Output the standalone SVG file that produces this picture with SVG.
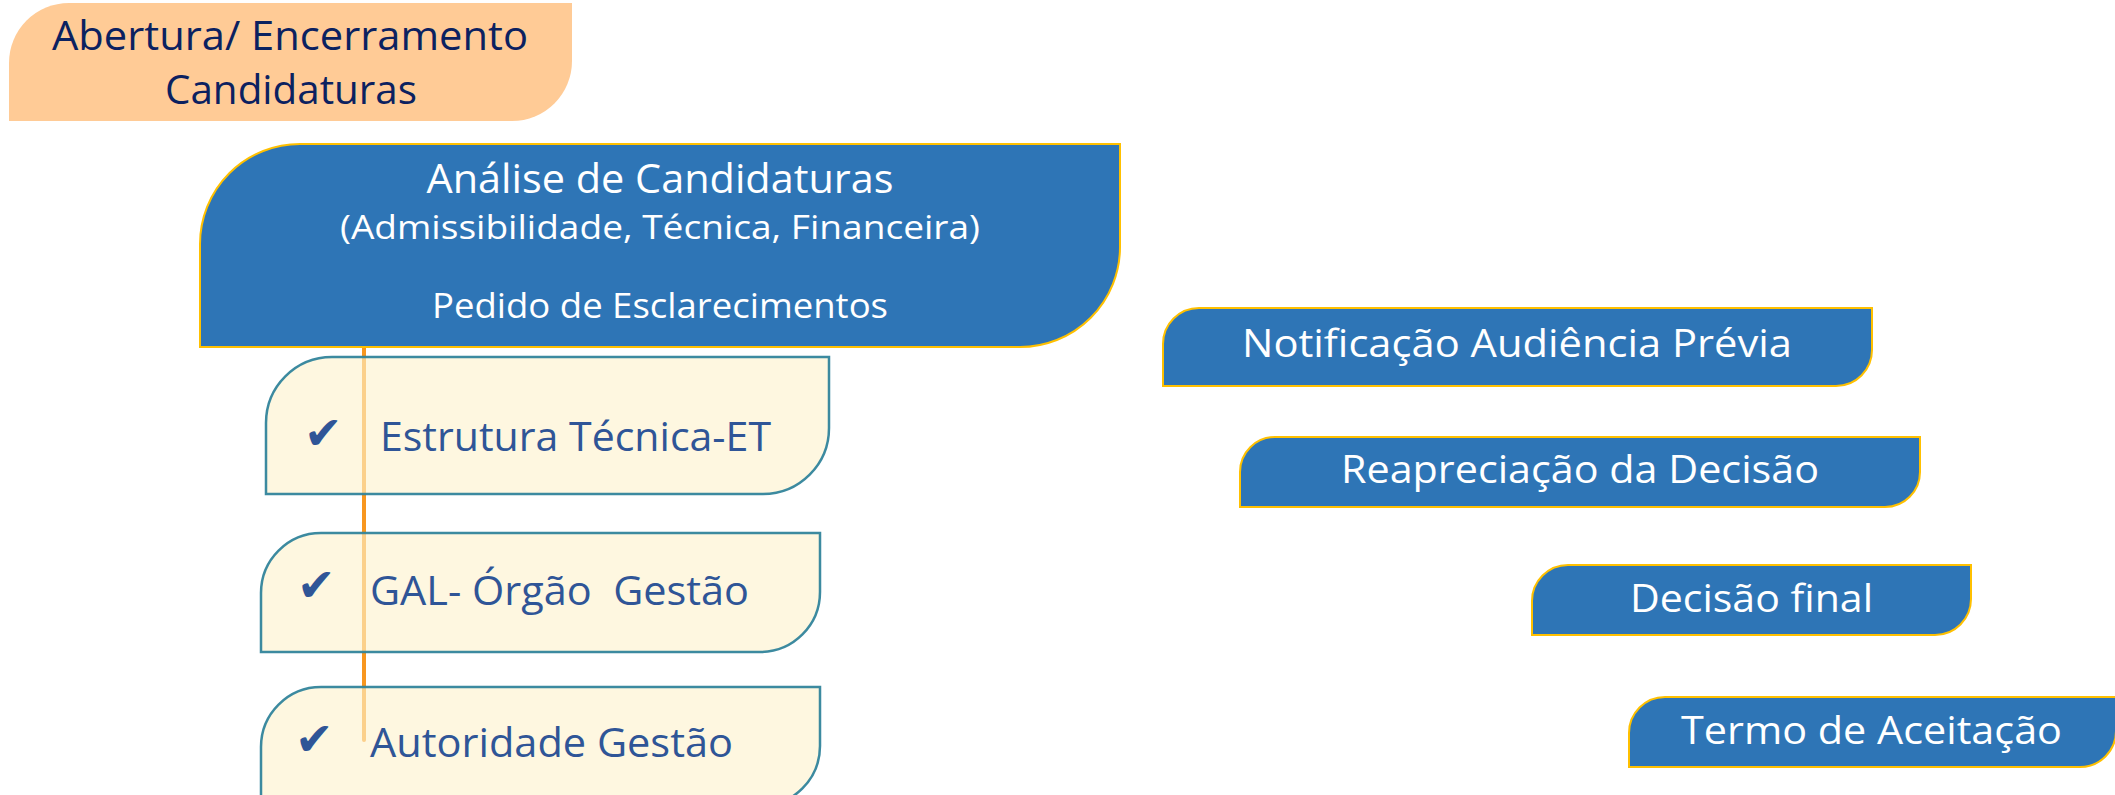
<svg xmlns="http://www.w3.org/2000/svg" width="2115" height="795" viewBox="0 0 2115 795">
<style>
.t{font-family:"Open Sans","Noto Sans","Liberation Sans",sans-serif}
.navy{fill:#0B2160}
.wht{fill:#FFFFFF}
.dk{fill:#2F5597}
.blue{fill:#2E75B6;stroke:#FFC000;stroke-width:2}
.cream{fill:#FDF2CD;fill-opacity:0.625;stroke:#31849B;stroke-width:2.5;stroke-opacity:0.95}
.chk{font-family:"DejaVu Sans",sans-serif;fill:#2F5597;font-size:46px}
</style>
<rect width="2115" height="795" fill="#FFFFFF"/>
<g id="connectors">
<line x1="364" y1="347" x2="364" y2="740" stroke="#F8971F" stroke-width="4" stroke-linecap="round"/>
</g>
<g id="abertura">
<path d="M9,63 A60,60 0 0 1 69,3 H572 V61 A60,60 0 0 1 512,121 H9 Z" fill="#FFCB96"/>
<text class="t navy" x="290" y="50" font-size="41" text-anchor="middle" textLength="476" lengthAdjust="spacingAndGlyphs">Abertura/ Encerramento</text>
<text class="t navy" x="291" y="104" font-size="41" text-anchor="middle" textLength="252" lengthAdjust="spacingAndGlyphs">Candidaturas</text>
</g>
<g id="analise">
<path class="blue" d="M200,244 A100,100 0 0 1 300,144 H1120 V247 A100,100 0 0 1 1020,347 H200 Z"/>
<text class="t wht" x="660" y="193" font-size="40" text-anchor="middle" textLength="467" lengthAdjust="spacingAndGlyphs">Análise de Candidaturas</text>
<text class="t wht" x="660" y="239" font-size="33" text-anchor="middle" textLength="640" lengthAdjust="spacingAndGlyphs">(Admissibilidade, Técnica, Financeira)</text>
<text class="t wht" x="660" y="318" font-size="34" text-anchor="middle" textLength="456" lengthAdjust="spacingAndGlyphs">Pedido de Esclarecimentos</text>
</g>
<g id="estrutura">
<path class="cream" d="M266,423 A66,66 0 0 1 332,357 H829 V428 A66,66 0 0 1 763,494 H266 Z"/>
<text class="chk" x="304" y="449">✔</text>
<text class="t dk" x="380" y="451" font-size="41" textLength="391" lengthAdjust="spacingAndGlyphs">Estrutura Técnica-ET</text>
</g>
<g id="gal">
<path class="cream" d="M261,593 A60,60 0 0 1 321,533 H820 V592 A60,60 0 0 1 760,652 H261 Z"/>
<text class="chk" x="297" y="601">✔</text>
<text class="t dk" x="370" y="605" font-size="41" textLength="379" lengthAdjust="spacingAndGlyphs" xml:space="preserve">GAL- Órgão  Gestão</text>
</g>
<g id="autoridade">
<path class="cream" d="M261,747 A60,60 0 0 1 321,687 H820 V746 A60,60 0 0 1 760,806 H261 Z"/>
<text class="chk" x="295" y="755">✔</text>
<text class="t dk" x="370" y="757" font-size="41" textLength="363" lengthAdjust="spacingAndGlyphs">Autoridade Gestão</text>
</g>
<g id="notificacao">
<path class="blue" d="M1163,344 A36,36 0 0 1 1199,308 H1872 V350 A36,36 0 0 1 1836,386 H1163 Z"/>
<text class="t wht" x="1242" y="357" font-size="38" textLength="550" lengthAdjust="spacingAndGlyphs">Notificação Audiência Prévia</text>
</g>
<g id="reapreciacao">
<path class="blue" d="M1240,472 A35,35 0 0 1 1275,437 H1920 V472 A35,35 0 0 1 1885,507 H1240 Z"/>
<text class="t wht" x="1341" y="483" font-size="38" textLength="478" lengthAdjust="spacingAndGlyphs">Reapreciação da Decisão</text>
</g>
<g id="decisao">
<path class="blue" d="M1532,601 A36,36 0 0 1 1568,565 H1971 V599 A36,36 0 0 1 1935,635 H1532 Z"/>
<text class="t wht" x="1630" y="612" font-size="38" textLength="243" lengthAdjust="spacingAndGlyphs">Decisão final</text>
</g>
<g id="termo">
<path class="blue" d="M1629,733 A36,36 0 0 1 1665,697 H2116 V731 A36,36 0 0 1 2080,767 H1629 Z"/>
<text class="t wht" x="1681" y="744" font-size="38" textLength="381" lengthAdjust="spacingAndGlyphs">Termo de Aceitação</text>
</g>
</svg>
